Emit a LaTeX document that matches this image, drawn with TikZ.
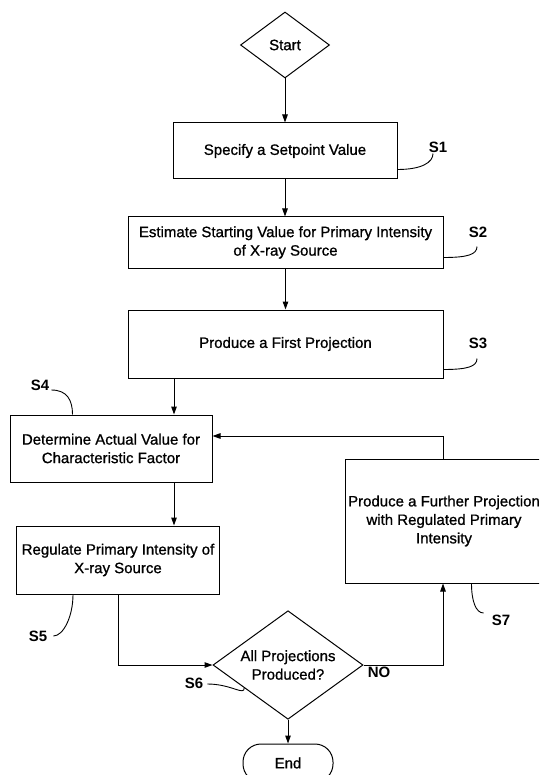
\documentclass[tikz,border=0pt]{standalone}
\usepackage{fontspec}
\setmainfont{Liberation Sans}
\newfontface\scanfont{Liberation Sans}[FakeBold=0.9]
\newfontface\labelfont{Liberation Sans Bold}
\usetikzlibrary{shapes.geometric,arrows.meta,calc}
\begin{document}
\begin{tikzpicture}[x=1pt,y=-1pt,
  every node/.style={font=\scanfont\fontsize{15}{18.5}\selectfont},
  box/.style={draw,line width=1pt,inner sep=0pt,align=center},
  dia/.style={draw,line width=1pt,diamond,inner sep=-4pt,align=center},
  term/.style={draw,line width=1pt,rounded corners=18pt,inner sep=0pt,minimum width=90pt,minimum height=38pt},
  arr/.style={line width=1pt,-{Triangle[length=8pt,width=5.5pt]}},
  conn/.style={line width=1pt},
  lead/.style={line width=0.9pt},
  lbl/.style={inner sep=0pt,font=\labelfont\fontsize{15}{18.5}\selectfont}
]
\clip (0,0) rectangle (539,775);
\fill[white] (0,0) rectangle (539,775);

% column / row helpers
\coordinate (colA) at (174,0);
\coordinate (colB) at (118,0);
\coordinate (colC) at (443,0);
\coordinate (loopy) at (0,436);

% nodes
\node[dia,minimum width=89pt,minimum height=66pt] (start) at (285,45) {Start};
\node[box,minimum width=224pt,minimum height=56pt] (s1) at (285,151) {Specify a Setpoint Value};
\node[box,minimum width=315pt,minimum height=51pt] (s2) at (285.5,242.5) {Estimate Starting Value for Primary Intensity\\of X-ray Source};
\node[box,minimum width=315pt,minimum height=68pt] (s3) at (285.5,344) {Produce a First Projection};
\node[box,minimum width=202pt,minimum height=67pt] (s4) at (111,448.5) {Determine Actual Value for\\Characteristic Factor};
\node[box,minimum width=203pt,minimum height=68pt] (s5) at (118,560) {Regulate Primary Intensity of\\X-ray Source};
\node[dia,minimum width=150pt,minimum height=72pt] (s6) at (288,665) {All Projections\\Produced?};
\node[term] (end) at (288,763) {End};
\node[draw,line width=1pt,minimum width=198pt,minimum height=124pt,inner sep=0pt] (s7) at (444,521) {};
\node[align=center,inner sep=0pt] (s7t) at (444,521) {Produce a Further Projection\\with Regulated Primary\\Intensity};

% labels
\node[lbl] (l1) at (438,147) {S1};
\node[lbl] (l2) at (478,232) {S2};
\node[lbl] (l3) at (478,343) {S3};
\node[lbl] (l4) at (40,385) {S4};
\node[lbl] (l5) at (38,636) {S5};
\node[lbl] (l6) at (194,683) {S6};
\node[lbl] (l7) at (501,620) {S7};
\node[lbl] (no) at (379,672) {NO};

% connectors
\draw[arr] (start.south) -- (s1.north);
\draw[arr] (s1.south) -- (s1.south |- s2.north);
\draw[arr] (s2.south) -- (s3.north);
\draw[arr] (colA |- s3.south) -- (colA |- s4.north);
\draw[arr] (colA |- s4.south) -- (colA |- s5.north);
\draw[arr] (colB |- s5.south) |- (s6.west);
\draw[arr] (s6.south) -- (end.north);
\draw[arr] (s6.east) -| (colC |- s7.south);
\draw[arr] (colC |- s7.north) |- (s4.east |- loopy);

% leader curves
\draw[lead] ($(s1.south east)+(0,-10)$) .. controls +(24,0) and +(0,9) .. ($(l1.south)+(-5,1)$);
\draw[lead] ($(s2.south east)+(0,-11)$) .. controls +(24,0) and +(0,8) .. ($(l2.south)+(-1,9)$);
\draw[lead] ($(s3.south east)+(0,-9)$) .. controls +(24,0) and +(0,8) .. ($(l3.south)+(-1,10)$);
\draw[lead] ($(l4.east)+(2,5)$) .. controls +(16,0) and +(0,-14) .. ($(s4.north west)+(63,0)$);
\draw[lead] ($(s5.south west)+(57,0)$) .. controls +(0,22) and +(10,0) .. ($(l5.east)+(6,0)$);
\draw[lead] ($(l6.east)+(4,1)$) .. controls +(24,0) and +(0,8) .. ($(s6.west)!0.42!(s6.south)$);
\draw[lead] ($(s7.south west)+(127,0)$) .. controls +(0,17) and +(-8,0) .. ($(l7.west)+(-8,-7)$);
\end{tikzpicture}
\end{document}
